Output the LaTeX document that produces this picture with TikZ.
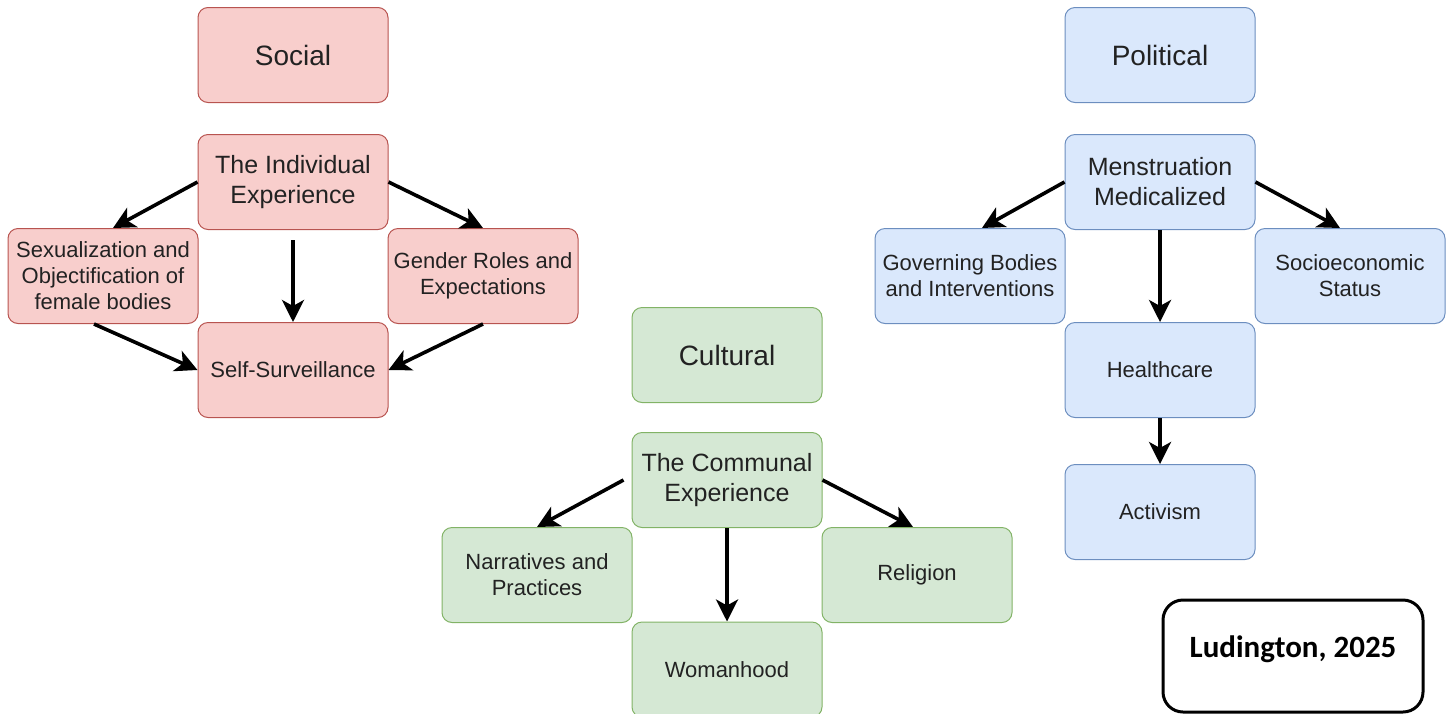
\documentclass[tikz,border=0pt]{standalone}
\usepackage{fontspec}
\setmainfont{Liberation Sans}
\newfontfamily\citefont{Carlito}
\usepackage{xcolor}
\usetikzlibrary{arrows.meta,positioning}
\definecolor{socfill}{HTML}{F8CECC}
\definecolor{socline}{HTML}{B85450}
\definecolor{polfill}{HTML}{DAE8FC}
\definecolor{polline}{HTML}{6C8EBF}
\definecolor{culfill}{HTML}{D5E8D4}
\definecolor{culline}{HTML}{82B366}
\definecolor{txt}{HTML}{222222}

\begin{document}
\begin{tikzpicture}[x=0.5pt,y=-0.5pt,
    box/.style={draw, rounded corners=5pt, minimum width=95pt, minimum height=47.5pt,
        align=center, text=txt, inner sep=2pt, line width=0.5pt},
    title/.style={box, font=\fontsize{14}{16}\selectfont},
    mid/.style={box, font=\fontsize{12.5}{15}\selectfont},
    small/.style={box, font=\fontsize{11}{13}\selectfont},
    soc/.style={fill=socfill, draw=socline},
    pol/.style={fill=polfill, draw=polline},
    cul/.style={fill=culfill, draw=culline},
    arr/.style={-{Stealth[length=11pt,width=11pt,inset=3pt]}, line width=1.8pt}]
    \useasboundingbox (0,0) rectangle (1451,713);
    % Social
    \node[title,soc] (social) at (293,55) {Social};
    \node[mid,soc] (indiv) at (293,182) {The Individual\\Experience};
    \node[small,soc] (sexual) at (103,276) {Sexualization and\\Objectification of\\female bodies};
    \node[small,soc] (gender) at (483,276) {Gender Roles and\\Expectations};
    \node[small,soc] (selfsurv) at (293,370) {Self-Surveillance};
    \draw[arr] (indiv.west) -- ([xshift=5pt]sexual.north);
    \draw[arr] (indiv.east) -- (gender.north);
    \draw[arr,shorten <=5pt] (indiv.south) -- (selfsurv.north);
    \draw[arr] ([xshift=-4.5pt]sexual.south) -- (selfsurv.west);
    \draw[arr] (gender.south) -- (selfsurv.east);
    % Cultural
    \node[title,cul] (cultural) at (727,355) {Cultural};
    \node[mid,cul] (communal) at (727,480) {The Communal\\Experience};
    \node[small,cul] (narr) at (537,575) {Narratives and\\Practices};
    \node[small,cul] (religion) at (917,575) {Religion};
    \node[small,cul] (woman) at (727,669.5) {Womanhood};
    \draw[arr] ([xshift=-4pt]communal.west) -- (narr.north);
    \draw[arr] (communal.east) -- ([xshift=-2pt]religion.north);
    \draw[arr] (communal.south) -- (woman.north);
    % Political
    \node[title,pol] (political) at (1160,55) {Political};
    \node[mid,pol] (mens) at (1160,182) {Menstruation\\Medicalized};
    \node[small,pol] (govern) at (970,276) {Governing Bodies\\and Interventions};
    \node[small,pol] (socio) at (1350,276) {Socioeconomic\\Status};
    \node[small,pol] (health) at (1160,370) {Healthcare};
    \node[small,pol] (activ) at (1160,512) {Activism};
    \draw[arr] (mens.west) -- ([xshift=6pt]govern.north);
    \draw[arr] (mens.east) -- ([xshift=-5pt]socio.north);
    \draw[arr] (mens.south) -- (health.north);
    \draw[arr] (health.south) -- (activ.north);
    % Citation
    \node[draw=black, fill=white, line width=1.5pt, rounded corners=10pt,
        minimum width=130pt, minimum height=56pt, text height=11pt, text depth=10pt,
        font=\citefont\bfseries\fontsize{15.5}{18}\selectfont] (cite) at (1293,656) {Ludington, 2025};
\end{tikzpicture}
\end{document}
